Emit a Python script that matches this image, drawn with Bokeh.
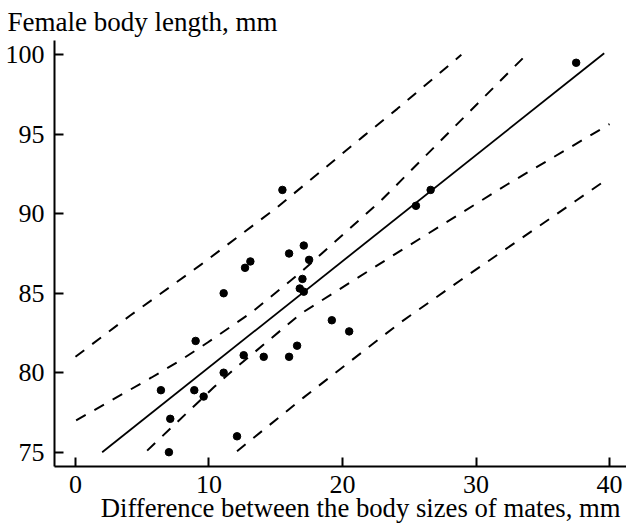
from bokeh.plotting import figure
from bokeh.models import Range1d, Title, FixedTicker
from bokeh.embed import file_html
from bokeh.resources import INLINE

# ---- data ----
diff_mm = [6.4, 7.1, 7.0, 9.0, 8.9, 9.6, 11.1, 11.1, 12.1, 12.6, 12.7, 13.1, 14.1,
           15.5, 16.0, 16.0, 16.6, 17.1, 17.0, 16.8, 17.1, 17.5, 19.2, 20.5,
           25.5, 26.6, 37.5]
female_len = [78.9, 77.1, 75.0, 82.0, 78.9, 78.5, 85.0, 80.0, 76.0, 81.1, 86.6, 87.0, 81.0,
              91.5, 87.5, 81.0, 81.7, 88.0, 85.9, 85.3, 85.1, 87.1, 83.3, 82.6,
              90.5, 91.5, 99.5]

fit_x = [2.0, 39.6]
fit_y = [75.0, 100.1]

pred_upper_x = [0.0, 4.1, 9.4, 15.1, 21.6, 24.1, 28.9]
pred_upper_y = [81.0, 83.6, 86.8, 90.4, 94.9, 96.6, 100.0]

conf_upper_x = [0.05, 5.7, 7.9, 9.9, 13.2, 16.85, 22.85, 33.7]
conf_upper_y = [77.0, 79.7, 80.8, 81.9, 83.8, 86.3, 90.8, 99.95]

conf_lower_x = [5.37, 10.36, 11.9, 16.85, 24.3, 32.33, 40.0]
conf_lower_y = [75.1, 79.08, 80.23, 83.7, 87.65, 91.84, 95.64]

pred_lower_x = [12.1, 17.1, 24.34, 28.84, 37.45, 39.95]
pred_lower_y = [75.06, 78.45, 83.16, 85.82, 90.8, 92.25]

x_ticks = [0, 10, 20, 30, 40]
y_ticks = [75, 80, 85, 90, 95, 100]

y_title = "Female body length, mm"
x_title = "Difference between the body sizes of mates, mm"

FONT = "Liberation Serif"
TICK_FS = "26px"

p = figure(width=626, height=524, output_backend="svg", toolbar_location=None,
           x_range=Range1d(-1.57, 41.27), y_range=Range1d(74.10, 100.9),
           min_border_left=54, min_border_right=0, min_border_top=39, min_border_bottom=58)

p.title = Title(text=y_title, align="left", offset=-47, text_font=FONT,
                text_font_size="27px", text_font_style="normal", text_color="black",
                standoff=8)
p.add_layout(Title(text=x_title, align="right", offset=6, text_font=FONT,
                   text_font_size="26.7px", text_font_style="normal", text_color="black",
                   standoff=-9), "below")

p.outline_line_color = None
p.xgrid.visible = False
p.ygrid.visible = False
p.background_fill_color = "white"
p.border_fill_color = "white"

for ax in (p.xaxis[0], p.yaxis[0]):
    ax.axis_line_width = 2
    ax.axis_line_color = "black"
    ax.major_tick_line_width = 2
    ax.major_tick_line_color = "black"
    ax.major_tick_in = 9
    ax.major_tick_out = 0
    ax.minor_tick_line_color = None
    ax.major_label_text_font = FONT
    ax.major_label_text_font_size = TICK_FS
    ax.major_label_text_color = "black"

p.xaxis[0].ticker = FixedTicker(ticks=x_ticks)
p.yaxis[0].ticker = FixedTicker(ticks=y_ticks)
p.xaxis[0].major_label_standoff = 9
p.yaxis[0].major_label_standoff = 10

dash = "11 10"
for xs, ys in ((pred_upper_x, pred_upper_y), (conf_upper_x, conf_upper_y),
               (conf_lower_x, conf_lower_y), (pred_lower_x, pred_lower_y)):
    p.line(xs, ys, line_color="black", line_width=2, line_dash=dash)

p.line(fit_x, fit_y, line_color="black", line_width=1.8)

p.scatter(diff_mm, female_len, size=7.5, marker="circle", fill_color="black", line_color="black")

open("out.html", "w").write(file_html(p, INLINE))
